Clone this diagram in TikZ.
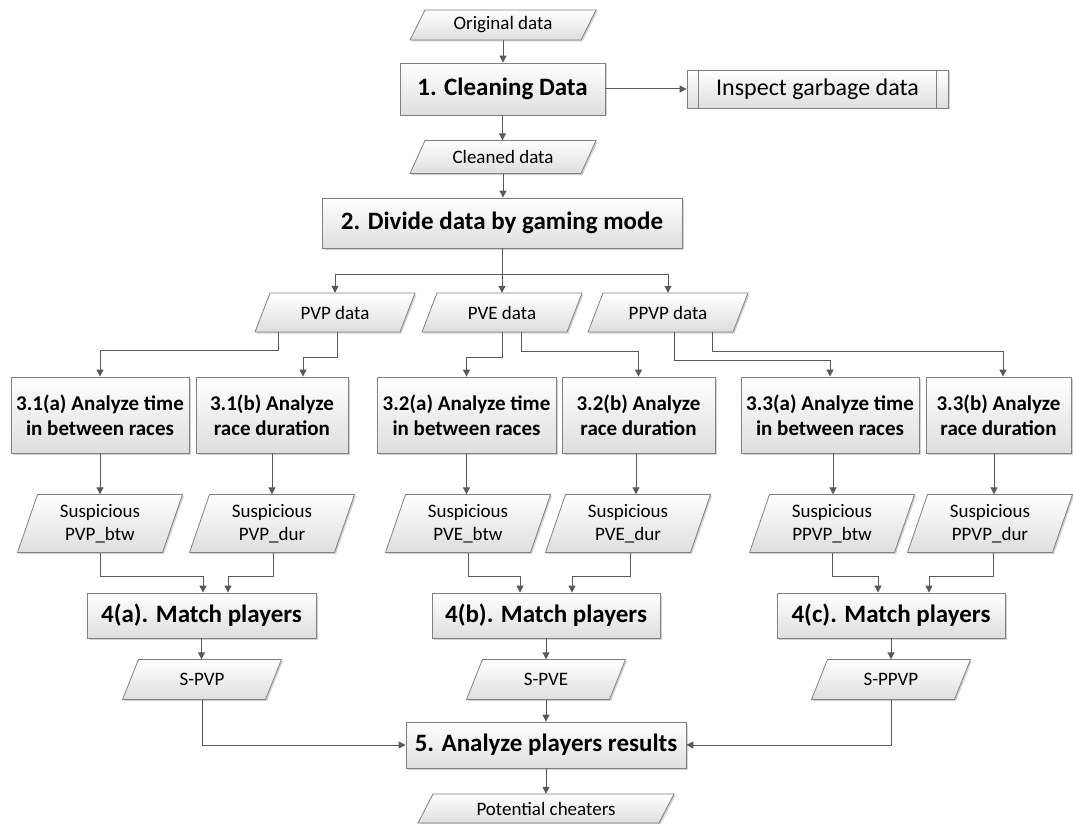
\documentclass[tikz,border=0pt]{standalone}
\usepackage{fontspec}
\setmainfont{Carlito}
\usetikzlibrary{arrows.meta,shadows}

\tikzset{
  shade/.style={top color=white, bottom color=black!13,
    drop shadow={shadow xshift=1.5pt, shadow yshift=-1.5pt, fill=black!35, opacity=0.5}},
  proc/.style={shade, draw=black!50, line width=0.8pt, inner sep=0pt, text=black,
    font=\bfseries\fontsize{25}{30}\selectfont},
  proctwo/.style={proc, align=center, font=\bfseries\fontsize{21}{25}\selectfont},
  predef/.style={proc, font=\fontsize{24}{28}\selectfont},
  datafill/.style={shade, draw=black!50, line width=0.8pt},
  datatext/.style={inner sep=0pt, align=center, text=black, font=\fontsize{19}{23}\selectfont},
  edge/.style={draw=black!50, line width=0.8pt},
  conn/.style={draw=black!65, line width=1pt, -{Triangle[length=7pt,width=7pt]}},
}

% data (input/output) shape: name, centre x, centre y, width, height, slant, text
\newcommand\datashape[7]{%
  \path[datafill] ({#2-#4/2},{#3+#5/2}) -- ({#2+#4/2-#6},{#3+#5/2})
    -- ({#2+#4/2},{#3-#5/2}) -- ({#2-#4/2+#6},{#3-#5/2}) -- cycle;
  \node[datatext, minimum width=#4pt, minimum height=#5pt] (#1) at (#2,#3) {#7};
}

\begin{document}
\begin{tikzpicture}[x=1pt,y=-1pt]
\useasboundingbox (0,0) rectangle (1073,824);

% stage 1
\datashape{orig}{503}{25}{186}{30}{15}{Original data}
\node[proc, minimum width=205pt, minimum height=52pt] (clean) at (502.5,89) {1. Cleaning Data};
\node[predef, minimum width=261pt, minimum height=38pt] (inspect) at (817.5,89) {Inspect garbage data};
\draw[edge] ([xshift=12pt]inspect.north west) -- ([xshift=12pt]inspect.south west);
\draw[edge] ([xshift=-12pt]inspect.north east) -- ([xshift=-12pt]inspect.south east);
\datashape{cleaned}{503}{157}{186}{33}{15}{Cleaned data}

% stage 2
\node[proc, minimum width=360pt, minimum height=50pt] (divide) at (502,223) {2. Divide data by gaming mode};
\datashape{pvp}{335}{312.5}{160}{39}{15}{PVP data}
\datashape{pve}{502}{312.5}{160}{39}{15}{PVE data}
\datashape{ppvp}{668}{312.5}{160}{39}{15}{PPVP data}

% stage 3
\node[proctwo, minimum width=178pt, minimum height=76pt] (b31a) at (100,415) {3.1(a) Analyze time\\in between races};
\node[proctwo, minimum width=152pt, minimum height=76pt] (b31b) at (272,415) {3.1(b) Analyze\\race duration};
\node[proctwo, minimum width=179pt, minimum height=76pt] (b32a) at (466.5,415) {3.2(a) Analyze time\\in between races};
\node[proctwo, minimum width=153pt, minimum height=76pt] (b32b) at (638.5,415) {3.2(b) Analyze\\race duration};
\node[proctwo, minimum width=178pt, minimum height=76pt] (b33a) at (830,415) {3.3(a) Analyze time\\in between races};
\node[proctwo, minimum width=145pt, minimum height=76pt] (b33b) at (998.5,415) {3.3(b) Analyze\\race duration};

\datashape{s31a}{100}{523.5}{165}{58}{20}{Suspicious\\PVP\_btw}
\datashape{s31b}{272}{523.5}{165}{58}{20}{Suspicious\\PVP\_dur}
\datashape{s32a}{468}{523.5}{165}{58}{20}{Suspicious\\PVE\_btw}
\datashape{s32b}{628}{523.5}{165}{58}{20}{Suspicious\\PVE\_dur}
\datashape{s33a}{832}{523.5}{165}{58}{20}{Suspicious\\PPVP\_btw}
\datashape{s33b}{990}{523.5}{165}{58}{20}{Suspicious\\PPVP\_dur}

% stage 4
\node[proc, minimum width=229pt, minimum height=45pt] (m4a) at (201.5,615.5) {4(a). Match players};
\node[proc, minimum width=228pt, minimum height=45pt] (m4b) at (546,615.5) {4(b). Match players};
\node[proc, minimum width=228pt, minimum height=45pt] (m4c) at (891,615.5) {4(c). Match players};
\datashape{spvp}{202}{679.5}{159}{40}{16}{S-PVP}
\datashape{spve}{546}{679.5}{159}{40}{16}{S-PVE}
\datashape{sppvp}{891}{679.5}{159}{40}{16}{S-PPVP}

% stage 5
\node[proc, minimum width=280pt, minimum height=46pt] (res) at (546,745) {5. Analyze players results};
\datashape{pot}{546}{808.5}{256}{29}{15}{Potential cheaters}

% connectors
\draw[conn] (orig.south) -- (orig.south |- clean.north);
\draw[conn] (clean) -- (inspect);
\draw[conn] (clean.south) -- (clean.south |- cleaned.north);
\draw[conn] (cleaned.south) -- (cleaned.south |- divide.north);

\coordinate (split) at (502,274);
\draw[conn] (divide.south) -- (divide.south |- pve.north);
\draw[conn] (split) -| (pvp.north);
\draw[conn] (split) -| (ppvp.north);

\draw[conn] ([xshift=-57pt]pvp.south) -- ++(0,18) -| (b31a.north);
\draw[conn] ([xshift=2pt]pvp.south) -- ++(0,25) -| ([xshift=31pt]b31b.north);
\draw[conn] (pve.south) -- ++(0,25) -| (b32a.north);
\draw[conn] ([xshift=19pt]pve.south) -- ++(0,19) -| (b32b.north);
\draw[conn] ([xshift=6pt]ppvp.south) -- ++(0,28) -| (b33a.north);
\draw[conn] ([xshift=44pt]ppvp.south) -- ++(0,19) -| ([xshift=4.5pt]b33b.north);

\draw[conn] (b31a.south) -- (b31a.south |- s31a.north);
\draw[conn] (b31b.south) -- (b31b.south |- s31b.north);
\draw[conn] (b32a.south) -- (b32a.south |- s32a.north);
\draw[conn] ([xshift=-2.5pt]b32b.south) -- ([xshift=-2.5pt]b32b.south |- s32b.north);
\draw[conn] ([xshift=3pt]b33a.south) -- ([xshift=3pt]b33a.south |- s33a.north);
\draw[conn] ([xshift=-4.5pt]b33b.south) -- ([xshift=-4.5pt]b33b.south |- s33b.north);

\draw[conn] (s31a.south) -- ++(0,24) -| ([xshift=1.5pt]m4a.north);
\draw[conn] ([xshift=1pt]s31b.south) -- ++(0,24) -| ([xshift=26.5pt]m4a.north);
\draw[conn] (s32a.south) -- ++(0,24) -| ([xshift=-26pt]m4b.north);
\draw[conn] ([xshift=2pt]s32b.south) -- ++(0,24) -| ([xshift=26pt]m4b.north);
\draw[conn] (s33a.south) -- ++(0,24) -| ([xshift=-13pt]m4c.north);
\draw[conn] ([xshift=3pt]s33b.south) -- ++(0,24) -| ([xshift=38pt]m4c.north);

\draw[conn] (m4a.south) -- (m4a.south |- spvp.north);
\draw[conn] (m4b.south) -- (m4b.south |- spve.north);
\draw[conn] (m4c.south) -- (m4c.south |- sppvp.north);

\draw[conn] (spvp.south) |- (res.west);
\draw[conn] (spve.south) -- (spve.south |- res.north);
\draw[conn] (sppvp.south) |- (res.east);
\draw[conn] (res.south) -- (res.south |- pot.north);
\end{tikzpicture}
\end{document}
